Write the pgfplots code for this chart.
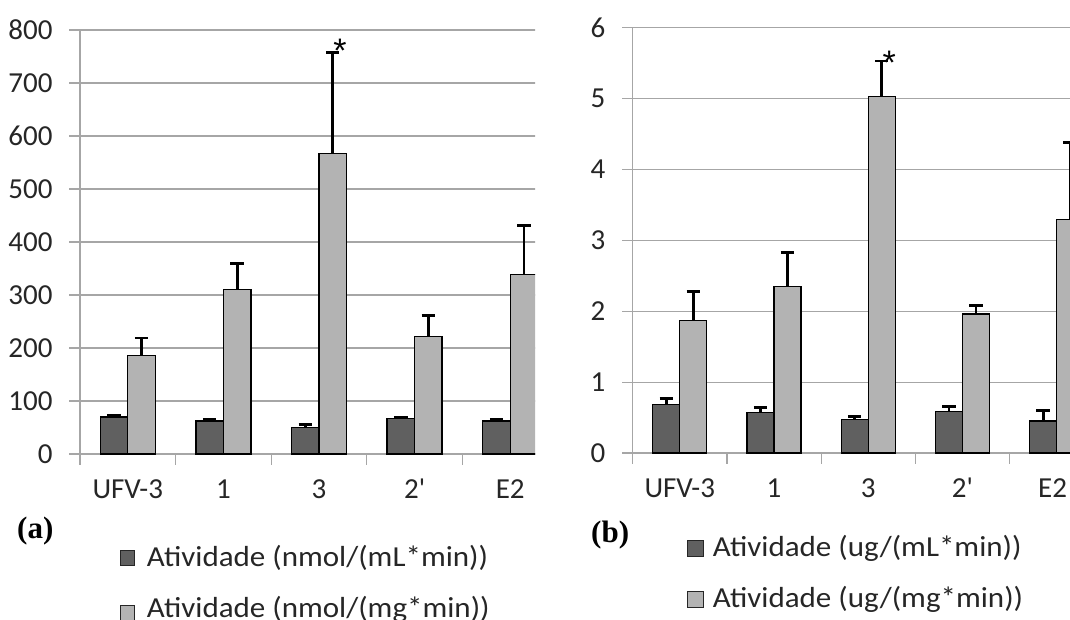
\documentclass[border=0pt]{standalone}
\usepackage{pgfplots}
\pgfplotsset{compat=1.18}
\usepackage{fontspec}
\setmainfont{Carlito}
\newfontfamily\panelfont{Liberation Serif}
\newfontfamily\starfont{Liberation Sans}

\definecolor{barDark}{RGB}{96,96,96}
\definecolor{barLight}{RGB}{179,179,179}
\definecolor{gridGray}{RGB}{166,166,166}
\definecolor{textDark}{RGB}{38,38,38}

\newcommand{\chartfont}{\fontsize{29}{29}\selectfont}
\newcommand{\starmark}{\starfont\fontsize{34}{34}\selectfont}

\pgfplotsset{
  activity/.style={
    scale only axis,
    xmin=-0.5, xmax=4.5, ymin=0,
    ybar=0pt, bar width=27.5pt,
    axis x line*=bottom, axis y line*=left,
    axis line style={draw=gridGray, line width=1.2pt, -},
    tick align=outside,
    major tick length=10.7pt, minor tick length=10.7pt,
    xtick={0,...,4},
    major x tick style={draw=none},
    minor xtick={-0.5,0.5,...,4.5},
    minor x tick style={draw=gridGray, line width=1.2pt},
    major y tick style={draw=gridGray, line width=1.2pt},
    ymajorgrids, grid style={draw=gridGray, line width=1.2pt},
    /pgf/number format/assume math mode=true,
    ticklabel style={font=\chartfont, text=textDark, inner sep=0pt},
    yticklabel style={xshift=-16.6pt},
    xticklabel style={anchor=north, text height=0.65em, text depth=0pt, yshift=-27.5pt},
    clip=false,
  },
  errstyle/.style={
    error bars/.cd, y dir=plus, y explicit,
    error bar style={line width=2.8pt, black},
    error mark options={rotate=90, line width=2.8pt, mark size=6.7pt, black}},
  darkbar/.style={fill=barDark, draw=black, line width=1.3pt, errstyle},
  lightbar/.style={fill=barLight, draw=black, line width=1.3pt, errstyle},
}

\begin{document}
\begin{tikzpicture}
\useasboundingbox (0pt,0pt) rectangle (1070pt,619pt);
\clip (0pt,0pt) rectangle (1070pt,619pt);

% (a) activity in nmol
\begin{scope}
\clip (0pt,0pt) rectangle (535pt,619pt);
\begin{axis}[activity, at={(80pt,165pt)}, anchor=south west,
    width=478pt, height=424pt, ymax=800, ytick={0,100,...,800},
    xticklabels={UFV-3,1,3,2\textquotesingle,E2}]
  \addplot[darkbar] coordinates {
    (0,70) +- (0,2)
    (1,62) +- (0,4)
    (2,50) +- (0,6)
    (3,67) +- (0,2)
    (4,62) +- (0,4)
  };
  \addplot[lightbar] coordinates {
    (0,186) +- (0,33)
    (1,310) +- (0,50)
    (2,567) +- (0,190)
    (3,222) +- (0,40)
    (4,339) +- (0,92)
  };
  \node[anchor=base, font=\starmark, inner sep=0pt]
    at ([xshift=21pt, yshift=-10.2pt]axis cs:2,757) {*};
\end{axis}
\end{scope}

% (b) activity in ug
\begin{axis}[activity, at={(632.7pt,166pt)}, anchor=south west,
    width=471pt, height=425.3pt, ymax=6, ytick={0,1,...,6},
    bar width=27pt,
    xticklabels={UFV-3,1,3,2\textquotesingle,\hspace*{-8pt}E2}]
  \addplot[darkbar] coordinates {
    (0,0.68) +- (0,0.09)
    (1,0.575) +- (0,0.07)
    (2,0.47) +- (0,0.045)
    (3,0.59) +- (0,0.07)
    (4,0.45) +- (0,0.155)
  };
  \addplot[lightbar] coordinates {
    (0,1.87) +- (0,0.41)
    (1,2.35) +- (0,0.48)
    (2,5.03) +- (0,0.50)
    (3,1.96) +- (0,0.12)
    (4,3.29) +- (0,1.09)
  };
  \node[anchor=base, font=\starmark, inner sep=0pt]
    at ([xshift=21pt, yshift=-13.8pt]axis cs:2,5.53) {*};
\end{axis}

% panel letters
\node[anchor=base west, inner sep=0pt, font=\panelfont\bfseries\fontsize{31}{31}\selectfont]
  at (17pt,81pt) {(a)};
\node[anchor=base west, inner sep=0pt, font=\panelfont\bfseries\fontsize{31}{31}\selectfont]
  at (591pt,76.3pt) {(b)};

% legends
\tikzset{legtext/.style={anchor=base west, inner sep=0pt, font=\chartfont, text=textDark, xscale=1.07}}
\draw[fill=barDark, draw=black!85, line width=0.8pt] (120pt,54pt) rectangle (134pt,69pt);
\node[legtext] at (146.7pt,52.3pt) {Atividade (nmol/(mL*min))};
\draw[fill=barLight, draw=black!85, line width=0.8pt] (120pt,-1pt) rectangle (134pt,14pt);
\node[legtext] at (146.7pt,2pt) {Atividade (nmol/(mg*min))};

\draw[fill=barDark, draw=black!85, line width=0.8pt] (687pt,62.3pt) rectangle (703pt,78.3pt);
\node[legtext] at (712.7pt,62.3pt) {Atividade (ug/(mL*min))};
\draw[fill=barLight, draw=black!85, line width=0.8pt] (687pt,12pt) rectangle (703pt,28pt);
\node[legtext] at (712.7pt,12pt) {Atividade (ug/(mg*min))};
\end{tikzpicture}
\end{document}
